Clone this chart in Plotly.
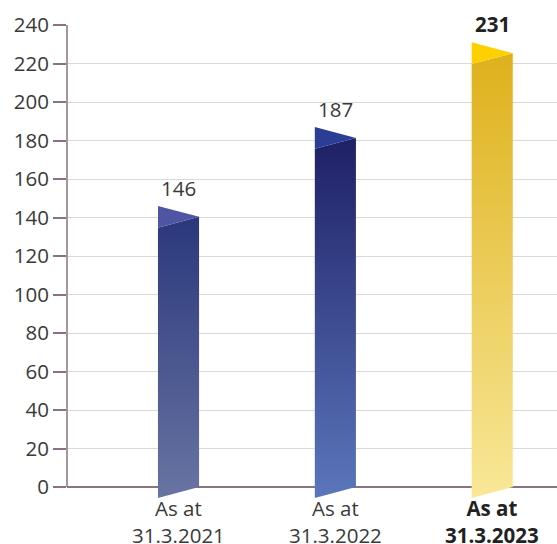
import plotly.graph_objects as go

# ---- data ----
categories = ["As at<br>31.3.2021", "As at<br>31.3.2022", "As at<br>31.3.2023"]
values = [146, 187, 231]
highlight = [False, False, True]
y_ticks = [0, 20, 40, 60, 80, 100, 120, 140, 160, 180, 200, 220, 240]

# ---- styles ----
body_top = ["#2a387c", "#1f2066", "#deb11c"]
body_bottom = ["#6874a2", "#5b76bb", "#f9e898"]
cap_color = ["#4f55a3", "#2b3d95", "#ffd000"]
HALF = 0.131     # half bar width in category units
SKEW = 5.65      # slant of bar ends in value units
AXIS_COL = "#8a7282"
FONT = "Open Sans"
FS = 20.5

fig = go.Figure()
for i, (cat, v) in enumerate(zip(categories, values)):
    c = i
    xl, xr = c - HALF, c + HALF
    # body (parallelogram with gradient)
    fig.add_trace(go.Scatter(
        x=[xl, xr, xr, xl, xl],
        y=[v - 2 * SKEW, v - SKEW, 0, -SKEW, v - 2 * SKEW],
        mode="lines", fill="toself", line=dict(width=0),
        fillgradient=dict(type="vertical",
                          colorscale=[[0, body_bottom[i]], [1, body_top[i]]]),
        hoverinfo="skip", showlegend=False))
    # cap (triangle)
    fig.add_trace(go.Scatter(
        x=[xl, xr, xl, xl],
        y=[v, v - SKEW, v - 2 * SKEW, v],
        mode="lines", fill="toself", line=dict(width=0),
        fillcolor=cap_color[i],
        hoverinfo="skip", showlegend=False))
    txt = f"<b>{v}</b>" if highlight[i] else str(v)
    fig.add_annotation(x=c, y=v, text=txt, showarrow=False,
                       yanchor="middle", yshift=18,
                       font=dict(family=FONT, size=FS,
                                 color="#222222" if highlight[i] else "#3a3a3a"))
    # category label below the axis
    lab = f"<b>{cat}</b>" if highlight[i] else cat
    fig.add_annotation(x=c, y=0, text=lab, showarrow=False,
                       yanchor="middle", yshift=-34.5,
                       font=dict(family=FONT, size=FS,
                                 color="#222222" if highlight[i] else "#3a3a3a"))

# y axis line from 0 to max
fig.add_shape(type="line", xref="paper", x0=0, x1=0, yref="y", y0=0, y1=240,
              line=dict(color=AXIS_COL, width=1.5))

fig.update_layout(
    width=557, height=544,
    margin=dict(l=67, r=0, t=25, b=42, autoexpand=False),
    paper_bgcolor="white", plot_bgcolor="white",
    showlegend=False,
    xaxis=dict(range=[-0.711, 2.413], showticklabels=False,
               showgrid=False, zeroline=False, showline=False, ticks="",
               automargin=False),
    yaxis=dict(range=[-7.79, 240], tickvals=y_ticks, automargin=False,
               showgrid=True, gridcolor="#d9d9d9", gridwidth=1,
               zeroline=True, zerolinecolor=AXIS_COL, zerolinewidth=1.5,
               showline=False, ticks="outside", ticklen=13,
               tickcolor=AXIS_COL, tickwidth=1.5,
               tickfont=dict(family=FONT, size=FS, color="#3a3a3a")),
)

fig.write_html("out.html")
